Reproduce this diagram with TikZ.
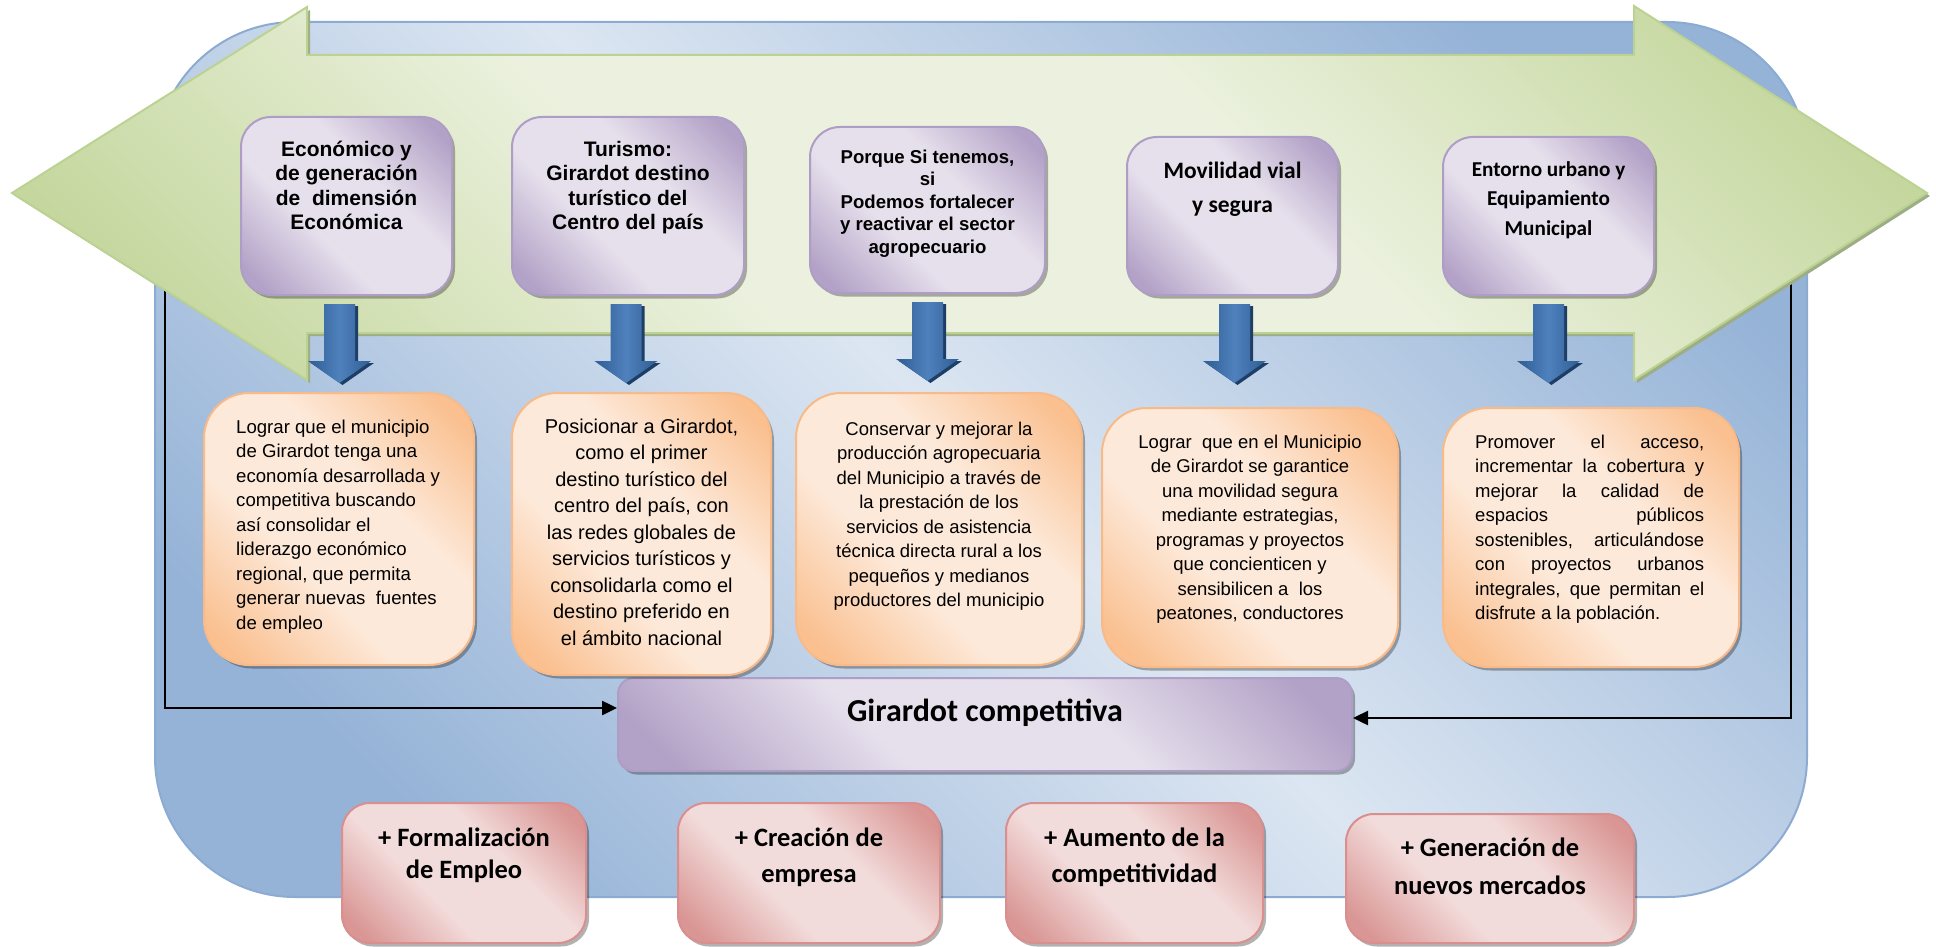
\documentclass[tikz,border=0pt]{standalone}
\usepackage{fontspec}
\setmainfont{Liberation Sans}
\newfontfamily\calib{Carlito}
\usetikzlibrary{shadows,arrows.meta}
\definecolor{bgdark}{HTML}{95B3D7}
\definecolor{bglight}{HTML}{DCE6F2}
\definecolor{bgline}{HTML}{8CABD3}
\definecolor{grdark}{HTML}{C3D69B}
\definecolor{grlight}{HTML}{EBF1DE}
\definecolor{grline}{HTML}{BCD292}
\definecolor{grshadow}{HTML}{9DAE86}
\definecolor{pudark}{HTML}{B3A2C7}
\definecolor{pulight}{HTML}{E6E0EC}
\definecolor{puline}{HTML}{AE9DC4}
\definecolor{ordark}{HTML}{FAC090}
\definecolor{orlight}{HTML}{FDE9D9}
\definecolor{orline}{HTML}{F8BA88}
\definecolor{rddark}{HTML}{D99694}
\definecolor{rdlight}{HTML}{F2DCDB}
\definecolor{rdline}{HTML}{D88F8D}
\definecolor{bldark}{HTML}{2F5D93}
\definecolor{blmid}{HTML}{4F81BD}
\definecolor{blshadow}{HTML}{1F3E66}
\colorlet{sdark}{black}
\colorlet{slight}{white}
\pgfdeclareverticalshading[sdark,slight]{diagmed}{100bp}{color(0bp)=(sdark); color(20bp)=(sdark); color(40bp)=(slight); color(60bp)=(slight); color(80bp)=(sdark); color(100bp)=(sdark)}
\pgfdeclareverticalshading[sdark,slight]{diagbg}{100bp}{color(0bp)=(sdark); color(24bp)=(sdark); color(50bp)=(slight); color(76bp)=(sdark); color(100bp)=(sdark)}
\newcommand\fsz[2]{\fontsize{#1pt}{#2pt}\selectfont}
\newcommand\fl[1]{\rule{0pt}{#1pt}}
\def\garrow{(12,193) -- (307,7) -- (307,55) -- (1634,55) -- (1634,6) -- (1927,193) -- (1634,380) -- (1634,333) -- (307,333) -- (307,380) -- cycle}
\def\barrowpath{(-15.5,8) -- (15.5,8) -- (15.5,65) -- (31.5,65) -- (0,87) -- (-31.5,65) -- (-15.5,65) -- cycle}
\newcommand\blarrow[2][0]{%
  \fill[blshadow, shift={(#2.south)}, shift={(#1+3,2)}] \barrowpath;
  \path[left color=bldark, right color=bldark, middle color=blmid, shift={(#2.south)}, shift={(#1,0)}] \barrowpath;}
\tikzset{
  diag/.style n args={3}{/utils/exec={\colorlet{sdark}{#1}\colorlet{slight}{#2}}, shade, shading=#3, shading angle=-45},
  shad/.style={drop shadow={shadow xshift=3pt, shadow yshift=-3.5pt, fill=black, opacity=0.3}},
  pbox/.style={draw=puline, line width=2pt, diag={pudark}{pulight}{diagmed}, rounded corners=30pt, shad, inner sep=0pt},
  obox/.style={draw=orline, line width=2pt, diag={ordark}{orlight}{diagmed}, rounded corners=45pt, shad, inner sep=0pt},
  rbox/.style={draw=rdline, line width=2pt, diag={rddark}{rdlight}{diagmed}, rounded corners=28pt, shad, inner sep=0pt},
  gbox/.style={draw=puline, line width=2pt, diag={pudark}{pulight}{diagmed}, rounded corners=16pt, shad, inner sep=0pt},
  txt/.style={inner sep=0pt, align=center, anchor=north},
  conn/.style={line width=2.5pt, -{Triangle[length=15pt,width=14pt]}},
}
\begin{document}
\begin{tikzpicture}[x=1pt,y=-1pt]
\useasboundingbox (0,0) rectangle (1936,947);
% background panel
\path[draw=bgline, line width=2pt, diag={bgdark}{bglight}{diagbg}, rounded corners=140pt] (155,22) rectangle (1807,897);
% central result box
\node[gbox, minimum width=734pt, minimum height=93pt] (gc) at (985,724.5) {};
\node[txt, font=\calib\bfseries\fsz{32}{38}] (gct) at (985,689) {\fl{32}Girardot competitiva};
% connectors
\coordinate (ls) at (165,250);
\coordinate (rs) at (1791,250);
\draw[conn] (ls) |- ([yshift=16.5pt]gc.west);
\draw[conn] (rs) |- ([yshift=6.5pt]gc.east);
% green double arrow
\path[fill=grshadow, shift={(3pt,-3pt)}] \garrow;
\path[draw=grline, line width=2pt, diag={grdark}{grlight}{diagmed}] \garrow;
% purple boxes
\node[pbox, minimum width=211pt, minimum height=178pt] (p1) at (346.5,206) {};
\node[pbox, minimum width=232pt, minimum height=178pt] (p2) at (628,206) {};
\node[pbox, minimum width=235pt, minimum height=166pt] (p3) at (927.5,210) {};
\node[pbox, minimum width=211pt, minimum height=158pt] (p4) at (1232.5,216) {};
\node[pbox, minimum width=211pt, minimum height=158pt] (p5) at (1548.5,216) {};
\node[txt, font=\bfseries\fsz{21}{24.5}] (p1t) at (346.5,135) {\fl{21}Económico y\\de generación\\de~ dimensión\\Económica};
\node[txt, font=\bfseries\fsz{21}{24.5}] (p2t) at (628,135) {\fl{21}Turismo:\\Girardot destino\\turístico del\\Centro del país};
\node[txt, font=\bfseries\fsz{18.6}{22.5}] (p3t) at (927.5,144.4) {\fl{18.6}Porque Si tenemos,\\si\\Podemos fortalecer\\y reactivar el sector\\agropecuario};
\node[txt, font=\calib\bfseries\fsz{23.5}{34}] (p4t) at (1232.5,154.5) {\fl{23.5}Movilidad vial\\y segura};
\node[txt, font=\calib\bfseries\fsz{21.2}{29.5}] (p5t) at (1548.5,154.8) {\fl{21.2}Entorno urbano y\\Equipamiento\\Municipal};
% blue arrows
\blarrow[-7]{p1}
\blarrow[-2]{p2}
\blarrow{p3}
\blarrow[2]{p4}
\blarrow{p5}
% orange boxes
\node[obox, minimum width=270pt, minimum height=272pt] (o1) at (339,529) {};
\node[obox, minimum width=259pt, minimum height=282pt] (o2) at (641.5,534) {};
\node[obox, minimum width=286pt, minimum height=272pt] (o3) at (939,529) {};
\node[obox, minimum width=296pt, minimum height=259pt] (o4) at (1250,537.5) {};
\node[obox, minimum width=296pt, minimum height=259pt] (o5) at (1591,537.5) {};
\node[inner sep=0pt, align=left, anchor=north west, font=\fsz{18.6}{24.5}] (o1t) at (236,414.4) {\fl{18.6}Lograr que el municipio\\de Girardot tenga una\\economía desarrollada y\\competitiva buscando\\así consolidar el\\liderazgo económico\\regional, que permita\\generar nuevas~ fuentes\\de empleo};
\node[txt, font=\fsz{20}{26.5}] (o2t) at (641.5,413) {\fl{20}Posicionar a Girardot,\\como el primer\\destino turístico del\\centro del país, con\\las redes globales de\\servicios turísticos y\\consolidarla como el\\destino preferido en\\el ámbito nacional};
\node[txt, font=\fsz{18.5}{24.5}] (o3t) at (939,416.5) {\fl{18.5}Conservar y mejorar la\\producción agropecuaria\\del Municipio a través de\\la prestación de los\\servicios de asistencia\\técnica directa rural a los\\pequeños y medianos\\productores del municipio};
\node[txt, font=\fsz{18.5}{24.5}] (o4t) at (1250,429.5) {\fl{18.5}Lograr~ que en el Municipio\\de Girardot se garantice\\una movilidad segura\\mediante estrategias,\\programas y proyectos\\que concienticen y\\sensibilicen a~ los\\peatones, conductores};
\node[inner sep=0pt, align=left, anchor=north west, font=\fsz{18.5}{24.5}] (o5t) at (1475,429.5) {\fl{18.5}\makebox[229pt][s]{Promover el acceso,}\\\makebox[229pt][s]{incrementar la cobertura y}\\\makebox[229pt][s]{mejorar la calidad de}\\\makebox[229pt][s]{espacios públicos}\\\makebox[229pt][s]{sostenibles, articulándose}\\\makebox[229pt][s]{con proyectos urbanos}\\\makebox[229pt][s]{integrales, que permitan el}\\disfrute a la población.};
% red result boxes
\node[rbox, minimum width=244pt, minimum height=140pt] (r1) at (464,873) {};
\node[rbox, minimum width=262pt, minimum height=140pt] (r2) at (809,873) {};
\node[rbox, minimum width=257pt, minimum height=140pt] (r3) at (1134.5,873) {};
\node[rbox, minimum width=288pt, minimum height=129pt] (r4) at (1490,878.5) {};
\node[txt, font=\calib\bfseries\fsz{26.5}{32.5}] (r1t) at (464,819.5) {\fl{26.5}+ Formalización\\de Empleo};
\node[txt, font=\calib\bfseries\fsz{26.5}{36}] (r2t) at (809,819.5) {\fl{26.5}+ Creación de\\empresa};
\node[txt, font=\calib\bfseries\fsz{26.5}{36}] (r3t) at (1134.5,819.5) {\fl{26.5}+ Aumento de la\\competitividad};
\node[txt, font=\calib\bfseries\fsz{26.5}{38}] (r4t) at (1490,829.5) {\fl{26.5}+ Generación de\\nuevos mercados};
\end{tikzpicture}
\end{document}
